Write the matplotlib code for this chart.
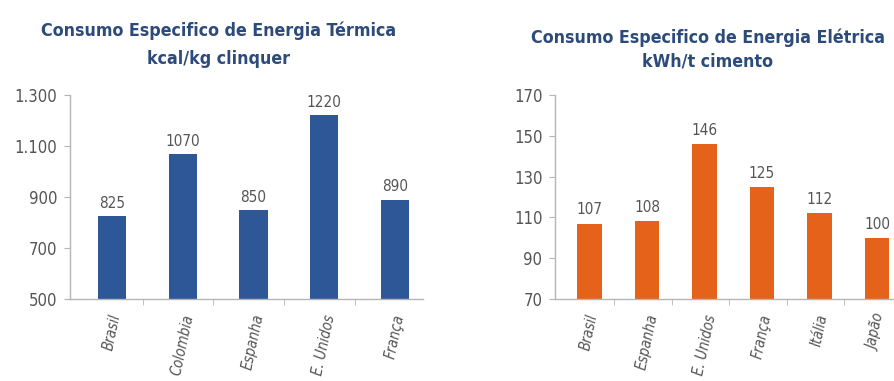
#!/usr/bin/env python3
"""Specific thermal and electric energy consumption of cement production, by country."""

import matplotlib

matplotlib.use("Agg")
import matplotlib.pyplot as plt
from matplotlib.ticker import FixedLocator

# Thermal energy, kcal/kg clinker
thermal_countries = ["Brasil", "Colombia", "Espanha", "E. Unidos", "França"]
thermal_values = [825, 1070, 850, 1220, 890]
thermal_yticks = [500, 700, 900, 1100, 1300]
thermal_yticklabels = ["500", "700", "900", "1.100", "1.300"]
thermal_title = ["Consumo Especifico de Energia Térmica", "kcal/kg clinquer"]

# Electric energy, kWh/t cement
electric_countries = ["Brasil", "Espanha", "E. Unidos", "França", "Itália", "Japão"]
electric_values = [107, 108, 146, 125, 112, 100]
electric_yticks = [70, 90, 110, 130, 150, 170]
electric_yticklabels = ["70", "90", "110", "130", "150", "170"]
electric_title = ["Consumo Especifico de Energia Elétrica", "kWh/t cimento"]

FONT = dict(family="DejaVu Sans", stretch="condensed")
TITLE_COLOR = "#2c4a7a"
TEXT_COLOR = "#555555"
AXIS_COLOR = "#b5b5b5"
BLUE = "#2d5797"
ORANGE = "#e5621b"

W, H = 894, 381


def draw_panel(ax, countries, values, yticks, yticklabels, color, width, label_pad):
    x = list(range(len(countries)))
    ax.bar(x, values, width=width, color=color, zorder=2)
    for xi, v in zip(x, values):
        ax.text(xi, v + label_pad, str(v), ha="center", va="bottom",
                fontsize=11, color=TEXT_COLOR, **FONT)

    ax.set_xlim(-0.6, len(countries) - 0.6)
    ax.set_ylim(yticks[0], yticks[-1])

    ax.set_yticks(yticks)
    ax.set_yticklabels(yticklabels, fontsize=12, color=TEXT_COLOR, **FONT)
    ax.set_xticks(x)
    ax.set_xticklabels(countries, fontsize=10.5, color=TEXT_COLOR, style="italic",
                       rotation=78, ha="center", va="top", **FONT)
    ax.xaxis.set_minor_locator(FixedLocator([i + 0.43 for i in x]))

    ax.tick_params(axis="y", length=4, color=AXIS_COLOR, pad=5)
    ax.tick_params(axis="x", which="major", length=0, pad=10)
    ax.tick_params(axis="x", which="minor", length=4, color=AXIS_COLOR)

    for side in ("top", "right"):
        ax.spines[side].set_visible(False)
    for side in ("left", "bottom"):
        ax.spines[side].set_color(AXIS_COLOR)
        ax.spines[side].set_linewidth(1.0)


def draw_title(fig, lines, cx, baselines):
    for text, base in zip(lines, baselines):
        fig.text(cx / W, 1 - base / H, text, ha="center", va="baseline",
                 fontsize=12.8, fontweight="bold", color=TITLE_COLOR, **FONT)


def main() -> int:
    fig = plt.figure(figsize=(W / 100, H / 100), dpi=100)
    fig.patch.set_facecolor("white")

    ax_thermal = fig.add_axes([70 / W, 82 / H, 353 / W, 204 / H])
    ax_electric = fig.add_axes([555 / W, 82 / H, 345 / W, 204 / H])

    draw_panel(ax_thermal, thermal_countries, thermal_values,
               thermal_yticks, thermal_yticklabels, BLUE, 0.4, 20)
    draw_panel(ax_electric, electric_countries, electric_values,
               electric_yticks, electric_yticklabels, ORANGE, 0.42, 3)

    draw_title(fig, thermal_title, 219, (36, 64))
    draw_title(fig, electric_title, 708, (43, 67))

    fig.savefig("out.png", dpi=100)
    plt.close(fig)
    return 0


if __name__ == "__main__":
    raise SystemExit(main())
